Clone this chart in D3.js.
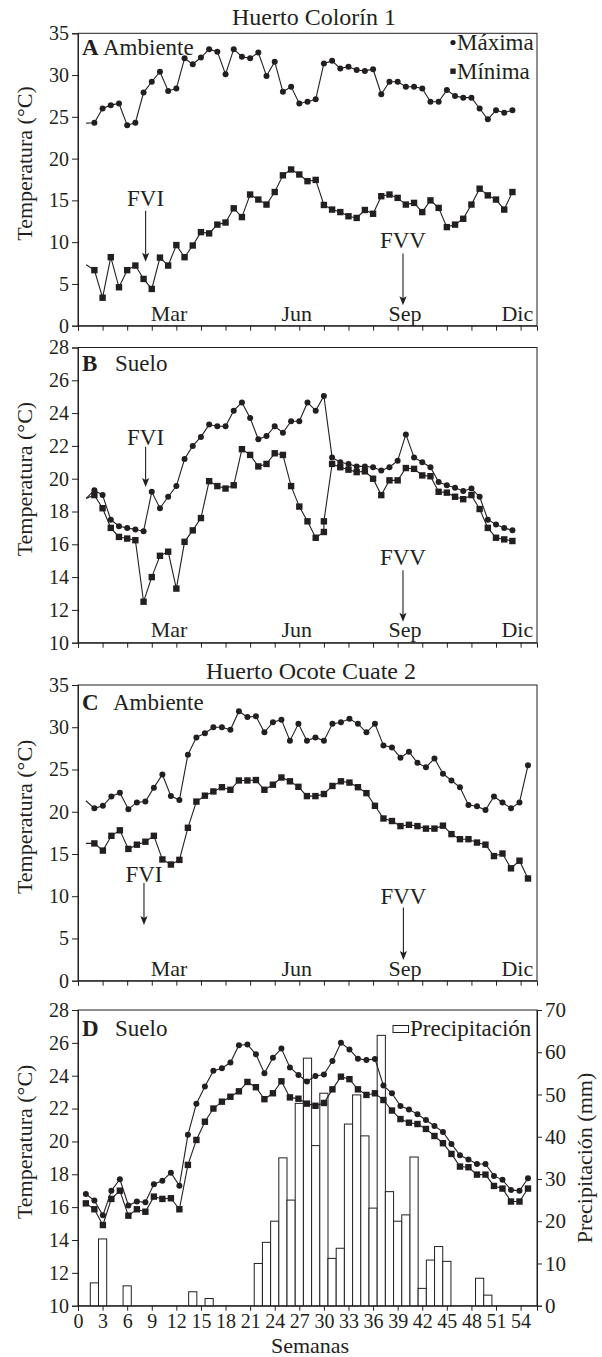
<!DOCTYPE html>
<html><head><meta charset="utf-8">
<script src="https://cdn.jsdelivr.net/npm/d3@7"></script>
<style>
body{margin:0;background:#fff}
text{font-family:"Liberation Serif","Times New Roman",serif;fill:#231f20}
</style>
</head><body><svg id="c" width="602" height="1357"></svg>
<script>
// ---------------- DATA ----------------
const meses = ["Mar", "Jun", "Sep", "Dic"];
const mesesSemana = [11.1, 26.7, 39.9, 53.6];
const semanasTicks = d3.range(0, 55, 3);
const ticksAmbiente = [0, 5, 10, 15, 20, 25, 30, 35];
const ticksSuelo = [10, 12, 14, 16, 18, 20, 22, 24, 26, 28];
const ticksPrecip = [0, 10, 20, 30, 40, 50, 60, 70];

// Panel A (Huerto Colorín 1, ambiente) weeks 1..53
const maxA = [24.25, 24.3, 26.0, 26.4, 26.6, 24.0, 24.3, 27.9, 29.2, 30.4, 28.1,
  28.4, 32.0, 31.3, 32.1, 33.1, 32.8, 30.1, 33.1, 32.2, 32.0,
  32.7, 29.9, 31.6, 28.0, 28.6, 26.6, 26.8, 27.1, 31.4, 31.7,
  30.8, 31.0, 30.6, 30.5, 30.7, 27.7, 29.2, 29.2, 28.6, 28.6,
  28.4, 26.8, 26.8, 28.2, 27.5, 27.3, 27.3, 26.0, 24.7, 25.8,
  25.5, 25.8];
const minA = [7.3, 6.65, 3.35, 8.2, 4.6, 6.65, 7.2, 5.6, 4.4, 8.15, 7.2,
  9.65, 8.2, 9.6, 11.2, 11.05, 12.1, 12.35, 14.05, 13.0, 15.7,
  15.1, 14.5, 16.0, 18.0, 18.7, 18.1, 17.3, 17.45, 14.45, 13.9,
  13.6, 13.1, 12.9, 13.85, 13.4, 15.5, 15.7, 15.3, 14.5, 14.7,
  13.6, 15.0, 14.1, 11.8, 12.1, 12.8, 14.5, 16.4, 15.6, 15.1,
  13.9, 16.0];

// Panel B (Huerto Colorín 1, suelo)
const maxB = [18.8, 19.3, 19.0, 17.5, 17.1, 17.0, 16.9, 16.8, 19.2, 18.2, 18.9,
  19.55, 21.2, 22.0, 22.55, 23.3, 23.2, 23.2, 24.15, 24.65, 23.7,
  22.4, 22.6, 23.2, 22.8, 23.5, 23.5, 24.65, 24.15, 25.05, 21.3,
  21.0, 20.9, 20.75, 20.75, 20.7, 20.5, 20.7, 21.1, 22.7, 21.3,
  21.0, 20.7, 19.8, 19.6, 19.45, 19.25, 19.4, 18.9, 17.5, 17.2,
  17.0, 16.85];
const semanasMinB = [...d3.range(1, 31), 30, ...d3.range(31, 54)];
const minB = [18.8, 19.0, 18.2, 17.0, 16.45, 16.35, 16.25, 12.5, 14.0, 15.3, 15.55,
  13.3, 16.15, 16.85, 17.6, 19.85, 19.55, 19.4, 19.6, 21.8, 21.45,
  20.75, 20.9, 21.55, 21.45, 19.55, 18.3, 17.4, 16.4, 16.75, 17.4,
  20.9, 20.7, 20.55, 20.4, 20.45, 20.0, 19.0, 19.9, 19.9, 20.65,
  20.6, 20.2, 20.15, 19.2, 19.15, 18.9, 18.75, 19.0, 18.15, 17.0,
  16.4, 16.3, 16.2];

// Panel C (Huerto Ocote Cuate 2, ambiente)
const maxC = [21.3, 20.4, 20.7, 21.8, 22.25, 20.3, 21.1, 21.2, 22.85, 24.4, 21.85,
  21.4, 26.75, 28.8, 29.3, 30.0, 30.0, 29.7, 31.9, 31.2, 31.3,
  29.4, 30.6, 30.9, 28.4, 30.4, 28.4, 28.8, 28.4, 30.4, 30.6,
  31.0, 30.4, 29.4, 30.4, 27.85, 27.6, 26.4, 27.1, 25.8, 25.25,
  26.3, 24.5, 23.7, 22.9, 20.8, 20.65, 20.2, 21.8, 21.1, 20.4,
  21.1, 25.5];
const minC = [16.25, 16.25, 15.4, 17.15, 17.8, 15.6, 16.1, 16.45, 17.15, 14.35, 13.75,
  14.3, 18.1, 21.2, 21.9, 22.4, 22.9, 22.6, 23.7, 23.7, 23.75,
  22.6, 23.2, 24.05, 23.6, 22.95, 21.85, 21.85, 22.1, 23.05, 23.6,
  23.45, 22.9, 22.2, 20.7, 19.2, 18.9, 18.3, 18.45, 18.3, 18.0,
  18.0, 18.35, 17.35, 16.75, 16.75, 16.35, 16.1, 14.75, 15.05, 13.3,
  14.2, 12.1];

// Panel D (Huerto Ocote Cuate 2, suelo)
const maxD = [16.8, 16.4, 15.5, 17.0, 17.7, 16.1, 16.35, 16.3, 17.4, 17.6,
  18.1, 17.3, 20.4, 22.3, 23.35, 24.3, 24.45, 24.8, 25.85, 25.9,
  25.3, 24.15, 25.1, 25.65, 24.5, 24.05, 23.65, 23.98, 24.07, 24.9,
  26.0, 25.6, 25.04, 24.96, 25.02, 23.4, 22.93, 22.16, 21.95, 21.65,
  21.3, 20.94, 20.58, 19.85, 19.16, 18.9, 18.63, 18.63, 17.9, 17.66,
  17.05, 16.99, 17.76];
const minD = [16.23, 15.87, 14.91, 16.5, 17.0, 15.48, 15.87, 15.72, 16.64, 16.5,
  16.54, 15.87, 18.57, 20.09, 21.2, 22.0, 22.42, 22.72, 23.05, 23.62,
  23.3, 22.57, 22.93, 23.66, 22.68, 22.6, 22.3, 22.17, 22.34, 23.17,
  23.94, 23.79, 23.17, 22.83, 22.93, 22.52, 21.88, 21.36, 21.14, 21.06,
  20.76, 20.33, 19.89, 19.24, 18.47, 18.43, 17.98, 17.98, 17.29, 17.13,
  16.34, 16.34, 17.13];
// weekly precipitation (mm), weeks 1..55
const precip = [0, 5.4, 15.8, 0, 0, 4.7, 0, 0, 0, 0,
  0, 0, 0, 3.3, 0, 1.7, 0, 0, 0, 0,
  0, 10.0, 15.0, 20.0, 35.0, 25.0, 47.9, 58.6, 37.9, 50.3,
  11.2, 13.6, 43.0, 49.9, 40.2, 23.1, 64.0, 27.0, 20.0, 21.5,
  35.2, 4.1, 10.8, 14.0, 10.5, 0, 0, 0, 6.5, 2.5,
  0, 0, 0, 0, 0];
const semanasPrecip = d3.range(1, 56);

// ---------------- DRAWING ----------------
const ink = "#231f20";
const svg = d3.select("#c");
const x = d3.scaleLinear().domain([0, 56]).range([78, 537]);
const semanasAB = d3.range(1, 54);
const idxCD = d3.scaleLinear().domain([0, 52]).range([0.96, 54.9]);

function styleAxis(sel, size) {
  sel.select(".domain").attr("stroke", ink);
  sel.selectAll(".tick line").attr("stroke", ink);
  sel.selectAll(".tick text").attr("fill", ink)
    .attr("font-family", '"Liberation Serif", serif').attr("font-size", size);
  sel.attr("font-family", null).attr("font-size", null);
}

function panel(o) {
  const y = d3.scaleLinear().domain(o.yDom).range([o.bottom, o.top]);
  const g = svg.append("g");
  g.append("rect").attr("x", x(0)).attr("y", o.top)
    .attr("width", x(56) - x(0)).attr("height", o.bottom - o.top)
    .attr("fill", "none").attr("stroke", ink).attr("stroke-width", 1);
  const la = g.append("g").attr("transform", `translate(${x(0)},0)`)
    .call(d3.axisLeft(y).tickValues(o.yTicks).tickSize(6).tickPadding(3).tickFormat(d3.format("d")));
  styleAxis(la, 20);
  const ba = g.append("g").attr("transform", `translate(0,${o.bottom})`)
    .call(d3.axisBottom(x).tickValues(semanasTicks).tickSize(5).tickPadding(3)
      .tickFormat(o.xLabels ? d3.format("d") : () => ""));
  styleAxis(ba, 20);
  g.append("text").attr("transform", `translate(32,${(o.top + o.bottom) / 2 - 16}) rotate(-90)`)
    .attr("text-anchor", "middle").attr("font-size", 22).text("Temperatura (°C)");
  return { g, y };
}

function serie(g, y, weeks, vals, shape, skipFirst) {
  const pts = vals.map((v, i) => ({ w: weeks[i], v }));
  g.append("path").datum(pts)
    .attr("d", d3.line().x(d => x(d.w)).y(d => y(d.v)))
    .attr("fill", "none").attr("stroke", ink).attr("stroke-width", 1.1);
  const m = skipFirst ? pts.slice(1) : pts;
  if (shape === "c") {
    g.selectAll(null).data(m).join("circle")
      .attr("cx", d => x(d.w)).attr("cy", d => y(d.v)).attr("r", 3).attr("fill", ink);
  } else {
    g.selectAll(null).data(m).join("rect")
      .attr("x", d => x(d.w) - 3.2).attr("y", d => y(d.v) - 3.2)
      .attr("width", 6.4).attr("height", 6.4).attr("fill", ink);
  }
}

function meseslab(g, y0) {
  g.selectAll(null).data(meses).join("text")
    .attr("x", (d, i) => x(mesesSemana[i])).attr("y", y0)
    .attr("text-anchor", "middle").attr("font-size", 22).text(d => d);
}

function flecha(g, y, label, w, yText, yFrom, yTo) {
  g.append("text").attr("x", x(w)).attr("y", y(yText)).attr("text-anchor", "middle")
    .attr("font-size", 23).text(label);
  const xf = x(w), y1 = y(yFrom), y2 = y(yTo);
  g.append("line").attr("x1", xf).attr("x2", xf).attr("y1", y1).attr("y2", y2 - 7)
    .attr("stroke", ink).attr("stroke-width", 1.1);
  g.append("path").attr("d", `M${xf},${y2} L${xf - 3.6},${y2 - 9} L${xf},${y2 - 7} L${xf + 3.6},${y2 - 9} Z`)
    .attr("fill", ink);
}

function etiqueta(g, letra, nombre, xN, yB) {
  g.append("text").attr("x", 82).attr("y", yB).attr("font-size", 23)
    .attr("font-weight", "bold").text(letra);
  g.append("text").attr("x", xN).attr("y", yB).attr("font-size", 23).text(nombre);
}

// Titles
svg.append("text").attr("x", 314).attr("y", 25).attr("text-anchor", "middle")
  .attr("font-size", 24).text("Huerto Colorín 1");
svg.append("text").attr("x", 311).attr("y", 679).attr("text-anchor", "middle")
  .attr("font-size", 24).text("Huerto Ocote Cuate 2");

// ---- Panel A
{
  const { g, y } = panel({ yDom: [0, 35], top: 33.3, bottom: 325.7, yTicks: ticksAmbiente });
  serie(g, y, semanasAB, maxA, "c", true);
  serie(g, y, semanasAB, minA, "s", true);
  etiqueta(g, "A", "Ambiente", 103, 55);
  meseslab(g, 320.5);
  flecha(g, y, "FVI", 8.25, 14.3, 13.75, 7.65);
  flecha(g, y, "FVV", 39.65, 9.3, 8.65, 2.45);
  g.append("circle").attr("cx", 453).attr("cy", 42.5).attr("r", 2.6).attr("fill", ink);
  g.append("text").attr("x", 457).attr("y", 49.5).attr("font-size", 23).text("Máxima");
  g.append("rect").attr("x", 450.3).attr("y", 68.5).attr("width", 5.4).attr("height", 5.4).attr("fill", ink);
  g.append("text").attr("x", 457).attr("y", 78.5).attr("font-size", 23).text("Mínima");
}
// ---- Panel B
{
  const { g, y } = panel({ yDom: [10, 28], top: 347.5, bottom: 642.7, yTicks: ticksSuelo });
  serie(g, y, semanasAB, maxB, "c", true);
  serie(g, y, semanasMinB, minB, "s", true);
  etiqueta(g, "B", "Suelo", 115, 371);
  meseslab(g, 637);
  flecha(g, y, "FVI", 8.25, 22.05, 21.95, 19.5);
  flecha(g, y, "FVV", 39.65, 14.73, 14.42, 11.27);
}
// ---- Panel C
{
  const { g, y } = panel({ yDom: [0, 35], top: 685, bottom: 980.7, yTicks: ticksAmbiente });
  const wC = maxC.map((d, i) => idxCD(i));
  serie(g, y, wC, maxC, "c", true);
  serie(g, y, wC, minC, "s", true);
  etiqueta(g, "C", "Ambiente", 113, 710);
  meseslab(g, 975.5);
  flecha(g, y, "FVI", 8.05, 11.7, 11.55, 6.6);
  flecha(g, y, "FVV", 39.7, 9.05, 8.65, 2.45);
}
// ---- Panel D
{
  const { g, y } = panel({ yDom: [10, 28], top: 1010, bottom: 1305.7, yTicks: ticksSuelo, xLabels: true });
  const yP = d3.scaleLinear().domain([0, 70]).range([1305.7, 1010]);
  const ra = g.append("g").attr("transform", `translate(${x(56)},0)`)
    .call(d3.axisRight(yP).tickValues(ticksPrecip).tickSize(5).tickPadding(3));
  styleAxis(ra, 21);
  const bars = precip.map((v, i) => ({ w: semanasPrecip[i], v })).filter(d => d.v > 0);
  g.selectAll(null).data(bars).join("rect")
    .attr("x", d => x(d.w - 0.5)).attr("width", x(1) - x(0))
    .attr("y", d => yP(d.v)).attr("height", d => yP(0) - yP(d.v))
    .attr("fill", "#fff").attr("stroke", ink).attr("stroke-width", 1);
  const wD = maxD.map((d, i) => idxCD(i));
  serie(g, y, wD, maxD, "c", false);
  serie(g, y, wD, minD, "s", false);
  etiqueta(g, "D", "Suelo", 115, 1036);
  g.append("rect").attr("x", 393).attr("y", 1025.5).attr("width", 15.5).attr("height", 7)
    .attr("fill", "#fff").attr("stroke", ink);
  g.append("text").attr("x", 410).attr("y", 1036).attr("font-size", 23).text("Precipitación");
  g.append("text").attr("transform", `translate(592,${1158}) rotate(-90)`)
    .attr("text-anchor", "middle").attr("font-size", 22).text("Precipitación (mm)");
  g.append("text").attr("x", 310).attr("y", 1353).attr("text-anchor", "middle")
    .attr("font-size", 22).text("Semanas");
}
</script>
</body></html>
